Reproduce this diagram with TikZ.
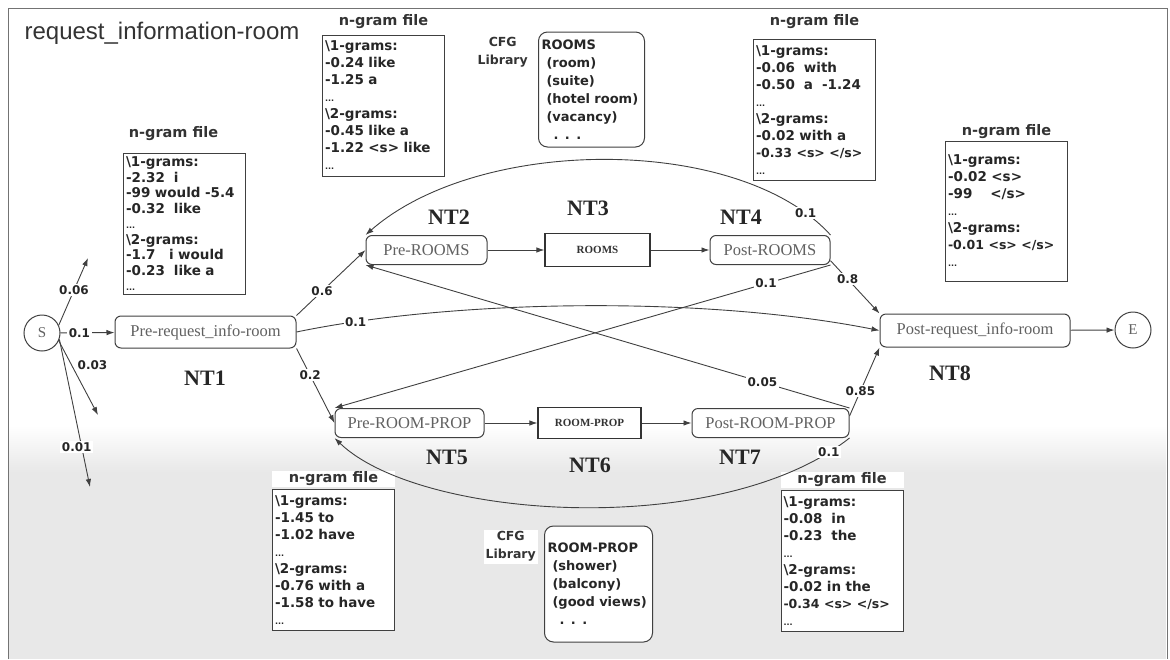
\documentclass[tikz,border=0pt]{standalone}
\usepackage{fontspec}
\setmainfont{Liberation Serif}
\newfontfamily\gramfont{DejaVu Sans}
\newfontfamily\headfont{Liberation Sans}
\usetikzlibrary{arrows.meta, positioning}
\newcommand{\ind}{\hspace*{5pt}}
\newcommand{\more}{{\fontsize{8}{8}\selectfont ...}}
\newcommand{\tags}[1]{{\fontsize{12.5}{17}\selectfont #1}}

\begin{document}
\begin{tikzpicture}[x=1pt, y=-1pt,
    nt/.style={rectangle, rounded corners=6pt, draw=black!75, line width=1pt, fill=white,
               text=black!62, font=\fontsize{16.5}{18}\selectfont, minimum height=29pt, inner sep=2pt},
    cfgbox/.style={rectangle, draw=black!80, line width=1.2pt, fill=white, text=black!80,
               font=\bfseries\fontsize{11}{12}\selectfont, minimum height=32pt},
    ntname/.style={font=\bfseries\fontsize{22}{24}\selectfont, text=black!85},
    term/.style={circle, draw=black!75, line width=1pt, minimum size=36pt, inner sep=0pt,
               text=black!62, font=\fontsize{15}{16}\selectfont},
    gram/.style={rectangle, draw=black!75, line width=1pt, fill=white, align=left,
               text width=117pt, inner sep=2.5pt, minimum height=141pt, text=black!85,
               font=\gramfont\bfseries\fontsize{13.5}{17}\selectfont},
    gramhead/.style={fill=white, minimum width=123pt, inner sep=1pt, text=black!80,
               font=\gramfont\bfseries\fontsize{14.5}{17}\selectfont},
    lib/.style={rectangle, rounded corners=9pt, draw=black!75, line width=1pt, fill=white,
               align=left, inner sep=3pt, text=black!85,
               font=\gramfont\bfseries\fontsize{13}{18}\selectfont},
    libname/.style={fill=white, align=center, inner sep=2pt, text=black!80,
               font=\gramfont\bfseries\fontsize{12.5}{18}\selectfont},
    prob/.style={fill=white, inner sep=1.5pt, text=black!85,
               font=\gramfont\bfseries\fontsize{12}{13}\selectfont},
    arr/.style={draw=black!75, line width=0.9pt, -{Latex[length=8pt,width=5.5pt]}},
  ]
  \useasboundingbox (0,0) rectangle (1170,659);
  % backdrop and frame
  \fill[top color=white, bottom color=black!9] (9,425) rectangle (1166,472);
  \fill[black!9] (9,472) rectangle (1166,659);
  \draw[black!55, line width=1pt] (8,659) |- (1167,8) -- (1167,659);

  \node[text=black!80, font=\headfont\fontsize{24}{26}\selectfont] (headline) at (162,33)
    {request\_information-room};

  % network
  \node[term] (S) at (42,333) {S};
  \node[nt, minimum width=181pt, minimum height=32pt] (pre) at (205.5,332) {Pre-request\_info-room};
  \node[nt, minimum width=121pt] (preR) at (426.5,250) {Pre-ROOMS};
  \node[cfgbox, minimum width=105pt, minimum height=33pt] (rooms) at (597.5,250) {ROOMS};
  \node[nt, minimum width=120pt] (postR) at (770,250) {Post-ROOMS};
  \node[nt, minimum width=149pt] (preP) at (409.5,423) {Pre-ROOM-PROP};
  \node[cfgbox, minimum width=103pt, minimum height=31pt] (roomprop) at (589.5,423) {ROOM-PROP};
  \node[nt, minimum width=157pt] (postP) at (770.5,423) {Post-ROOM-PROP};
  \node[nt, minimum width=190pt, minimum height=33pt] (post) at (975,330.5) {Post-request\_info-room};
  \node[term] (E) at (1133,330) {E};

  \node[ntname] (nt1) at (205,378) {NT1};
  \node[ntname] (nt2) at (449,217) {NT2};
  \node[ntname] (nt3) at (588,208) {NT3};
  \node[ntname] (nt4) at (741,217) {NT4};
  \node[ntname] (nt5) at (447,457) {NT5};
  \node[ntname] (nt6) at (590,465) {NT6};
  \node[ntname] (nt7) at (740,457) {NT7};
  \node[ntname] (nt8) at (950,373) {NT8};

  % n-gram files
  \node[gram, font=\gramfont\bfseries\fontsize{13.5}{15.5}\selectfont] (ng1) at (184.5,224)
    {\textbackslash 1-grams:\\-2.32~~i\\-99 would -5.4\\-0.32~~like\\\more\\
     \textbackslash 2-grams:\\-1.7~~~i would\\-0.23~~like a\\\more};
  \node[gramhead, above=11pt of ng1, xshift=-11pt] (ng1head) {n-gram file};
  \node[gram] (ng2) at (383.5,105.5)
    {\textbackslash 1-grams:\\-0.24 like\\-1.25 a\\\more\\
     \textbackslash 2-grams:\\-0.45 like a\\-1.22 <s> like\\\more};
  \node[gramhead, above=4.5pt of ng2] (ng2head) {n-gram file};
  \node[gram] (ng3) at (814.5,110)
    {\textbackslash 1-grams:\\-0.06~~with\\-0.50~~a~~-1.24\\\more\\
     \textbackslash 2-grams:\\-0.02 with a\\\tags{-0.33 <s> </s>}\\\more};
  \node[gramhead, above=9.5pt of ng3] (ng3head) {n-gram file};
  \node[gram, minimum height=140pt] (ng4) at (1006.5,211)
    {\textbackslash 1-grams:\\-0.02 <s>\\-99~~~~</s>\\\more\\
     \textbackslash 2-grams:\\\tags{-0.01 <s> </s>}\\\more\\[4pt]};
  \node[gramhead, above=0.5pt of ng4] (ng4head) {n-gram file};
  \node[gram] (ng5) at (333.5,560)
    {\textbackslash 1-grams:\\-1.45 to\\-1.02 have\\\more\\
     \textbackslash 2-grams:\\-0.76 with a\\-1.58 to have\\\more};
  \node[gramhead, above=2pt of ng5] (ng5head) {n-gram file};
  \node[gram] (ng6) at (842,561)
    {\textbackslash 1-grams:\\-0.08~~in\\-0.23~~the\\\more\\
     \textbackslash 2-grams:\\-0.02 in the\\\tags{-0.34 <s> </s>}\\\more};
  \node[gramhead, above=2pt of ng6] (ng6head) {n-gram file};

  % CFG libraries
  \node[lib, text width=100pt, minimum height=115pt] (cfgtop) at (591.5,89.5)
    {ROOMS\\\ind(room)\\\ind(suite)\\\ind(hotel room)\\\ind(vacancy)\\\hspace*{12pt}. . .};
  \node[libname, left=8pt of cfgtop.north west, anchor=north east, yshift=-4pt] (cfgtoplbl) {CFG\\Library};
  \node[lib, text width=102pt, minimum height=116pt] (cfgbot) at (598.5,584)
    {ROOM-PROP\\\ind(shower)\\\ind(balcony)\\\ind(good views)\\\hspace*{12pt}. . .};
  \node[libname, left=6pt of cfgbot.north west, anchor=north east, yshift=-4pt] (cfgbotlbl) {CFG\\Library};

  % transitions
  \coordinate (s1) at (88,258);
  \coordinate (s2) at (98,415);
  \coordinate (s3) at (90,487);
  \draw[arr] (S.25) -- node[prob, pos=0.52] {0.06} (s1);
  \draw[arr] (S) -- node[prob, pos=0.35] {0.1} (pre);
  \draw[arr] (S.-25) -- node[prob, pos=0.33, anchor=west, xshift=4pt] {0.03} (s2);
  \draw[arr] (S.-20) -- node[prob, pos=0.73, xshift=-5pt] {0.01} (s3);

  \draw[arr] (pre.north east) -- node[prob, pos=0.37] {0.6} (preR.west);
  \draw[arr] (pre.east) .. controls (450,300) and (700,295) .. node[prob, pos=0.12] {0.1} (post.west);
  \draw[arr] (pre.south east) -- node[prob, pos=0.36] {0.2} (preP.west);

  \draw[arr] (preR) -- (rooms);
  \draw[arr] (rooms) -- (postR);
  \draw[arr] (preP) -- (roomprop);
  \draw[arr] (roomprop) -- (postP);

  \draw[arr] (postR.north east) .. controls (740,135) and (480,135) .. node[prob, pos=0.08] {0.1} (preR.north west);
  \draw[arr] (postR.south east) -- node[prob, pos=0.13] {0.1} (preP.north west);
  \draw[arr] (postR.-10) -- node[prob, pos=0.35] {0.8} (post.north west);
  \draw[arr] (postP.north east) -- node[prob, pos=0.18] {0.05} (preR.south west);
  \draw[arr] (postP.5) -- node[prob, pos=0.36] {0.85} (post.south west);
  \draw[arr] (postP.south east) .. controls (720,540) and (420,520) .. node[prob, pos=0.05] {0.1} (preP.south west);
  \draw[arr] (post) -- (E);
\end{tikzpicture}
\end{document}
